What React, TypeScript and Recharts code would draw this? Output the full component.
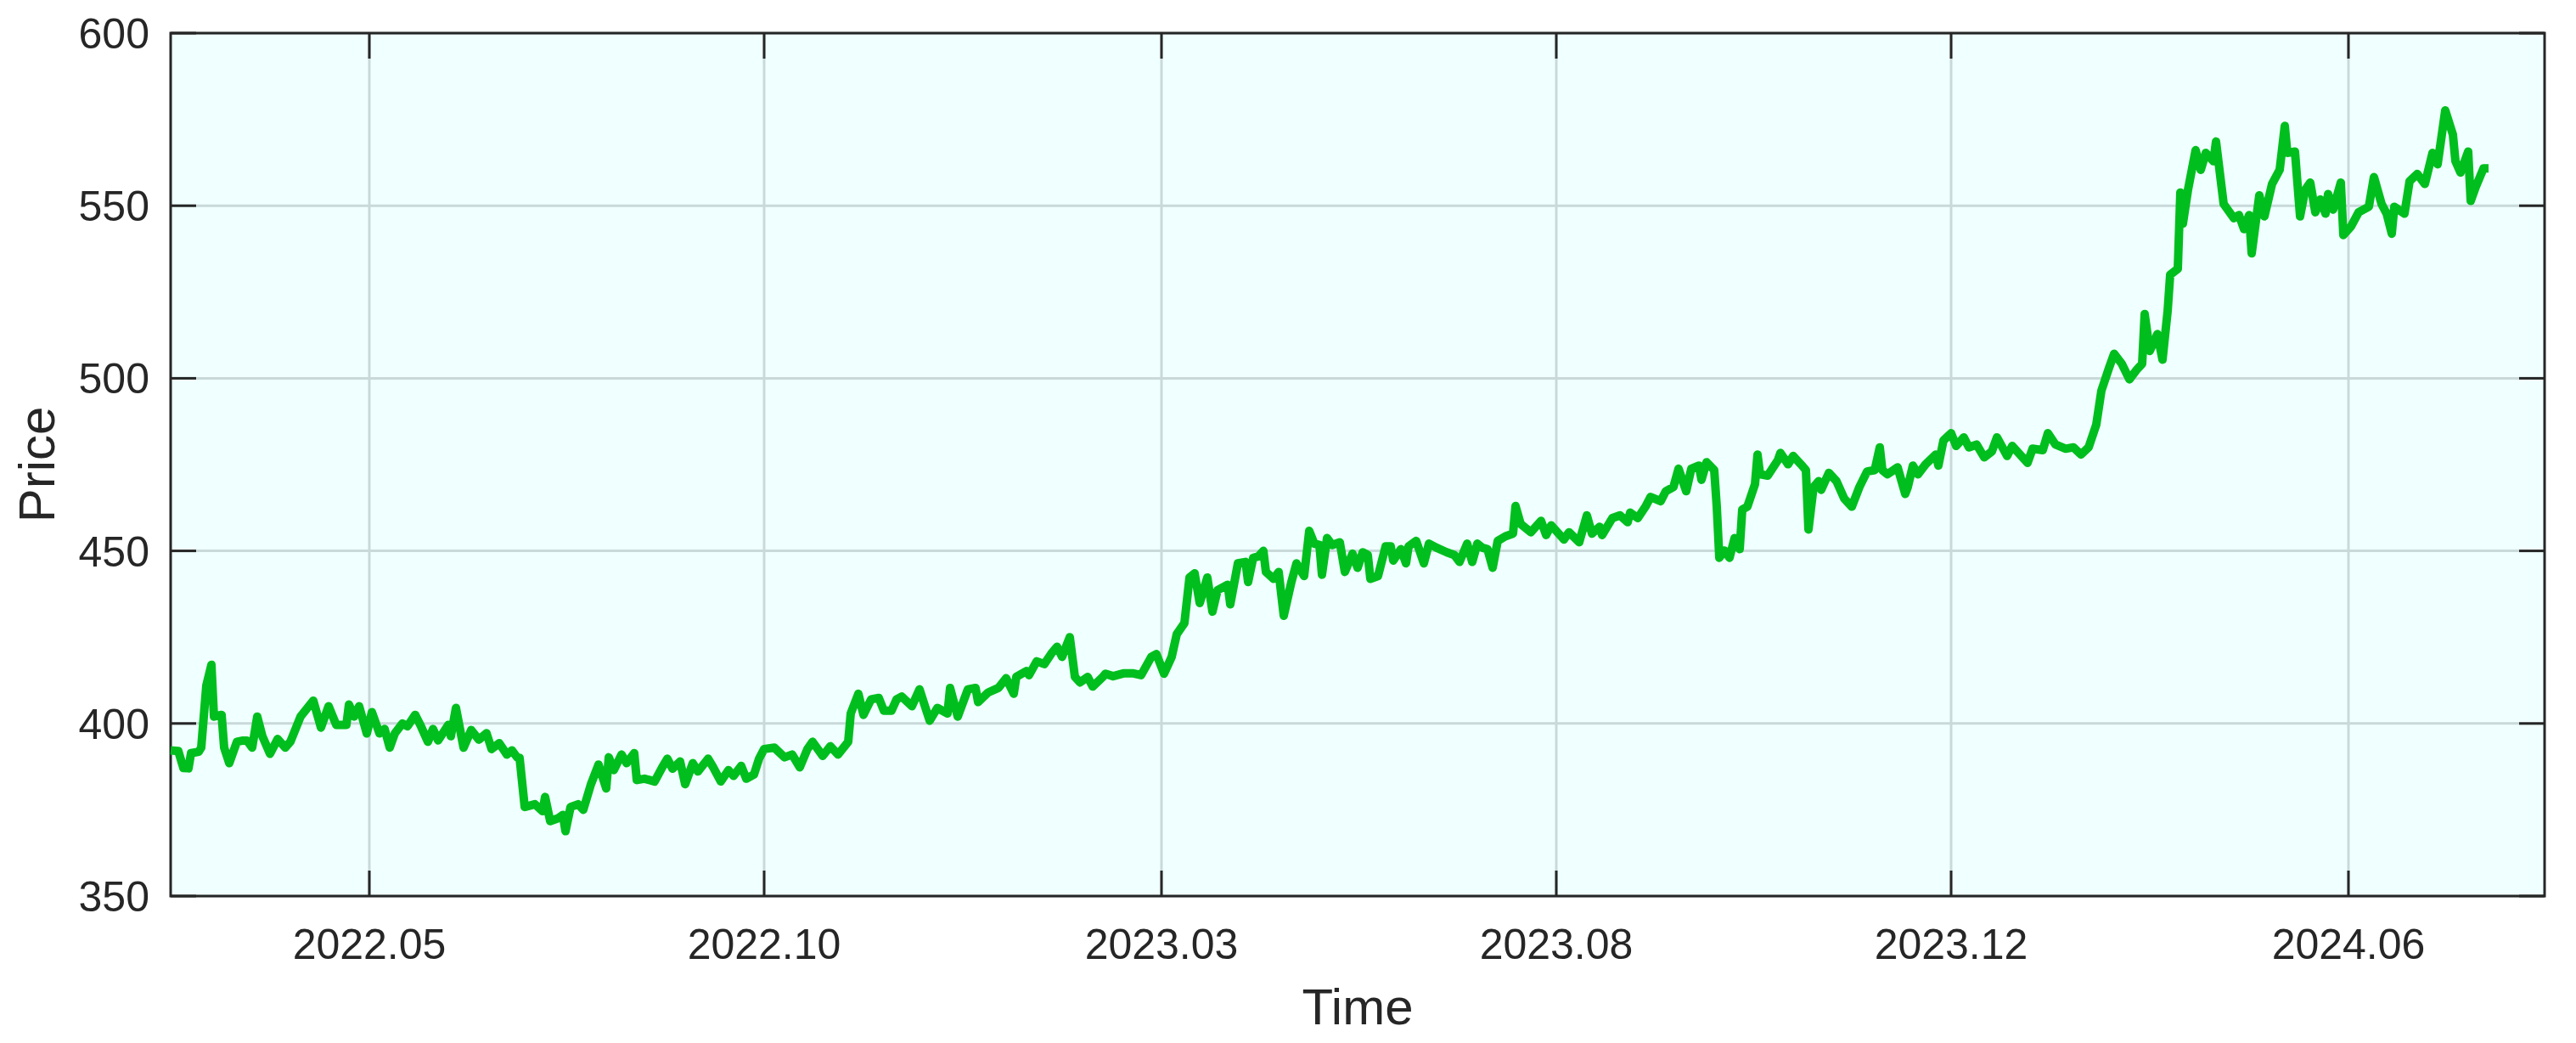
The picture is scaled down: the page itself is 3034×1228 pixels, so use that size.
import React from 'react';
import { LineChart, Line, XAxis, YAxis, CartesianGrid, Label, ReferenceArea } from 'recharts';

// day offsets from the start of the series and the matching prices
const days = [
  0, 3, 5, 7, 8, 11, 12, 14, 16, 17, 20, 21, 23, 26, 28, 30, 32, 34, 36, 39,
  42, 45, 47, 51, 56, 59, 62, 65, 69, 70, 72, 74, 77, 79, 82, 84, 86, 88, 91, 93,
  96, 98, 101, 103, 105, 109, 110, 112, 115, 118, 121, 124, 126, 129, 132, 134, 136, 137, 139, 143,
  146, 147, 149, 152, 154, 155, 157, 160, 162, 165, 168, 171, 172, 174, 177, 179, 182, 183, 186, 188,
  190, 193, 195, 197, 200, 202, 205, 207, 211, 213, 216, 219, 221, 224, 226, 229, 231, 233, 237, 241,
  244, 247, 250, 252, 256, 259, 262, 266, 267, 270, 272, 275, 278, 280, 283, 285, 287, 291, 294, 296,
  298, 301, 305, 306, 309, 313, 316, 317, 321, 325, 328, 331, 332, 336, 337, 340, 343, 346, 348, 350,
  351, 353, 355, 357, 360, 362, 366, 367, 370, 374, 378, 381, 385, 387, 390, 393, 395, 398, 400, 402,
  404, 407, 409, 411, 415, 416, 419, 422, 423, 425, 427, 429, 430, 433, 435, 437, 440, 442, 445, 447,
  449, 451, 452, 454, 456, 459, 461, 464, 466, 468, 470, 471, 474, 477, 479, 480, 483, 485, 486, 489,
  492, 494, 497, 501, 504, 506, 509, 511, 513, 515, 517, 519, 521, 524, 527, 528, 530, 534, 538, 540,
  542, 547, 549, 553, 556, 558, 561, 562, 566, 569, 572, 573, 576, 579, 581, 585, 587, 590, 592, 595,
  597, 600, 601, 603, 606, 607, 608, 610, 612, 614, 616, 617, 619, 622, 623, 624, 627, 631, 632, 635,
  637, 640, 642, 643, 645, 647, 648, 651, 654, 657, 660, 663, 666, 669, 671, 672, 674, 678, 681, 682,
  684, 686, 689, 693, 694, 696, 699, 701, 704, 706, 709, 712, 715, 717, 721, 723, 729, 731, 735, 737,
  740, 744, 747, 750, 753, 756, 758, 761, 763, 766, 769, 772, 774, 775, 777, 780, 782, 784, 785, 788,
  789, 790, 792, 795, 797, 799, 802, 803, 806, 810, 812, 814, 816, 817, 820, 822, 825, 828, 830, 831,
  834, 836, 838, 840, 842, 844, 846, 847, 849, 852, 853, 856, 859, 863, 865, 868, 870, 872, 873, 877,
  879, 882, 885, 888, 890, 893, 896, 897, 899, 902, 903, 905, 908, 910,
];

const prices = [
  392.2, 392, 387.1, 387, 391.4, 391.8, 393, 411, 417, 402, 402.5, 393, 388.5, 394.7, 395, 395, 393, 402, 396.3, 391.2,
  395.5, 393, 394.7, 402, 406.6, 398.8, 405, 399.6, 399.6, 405.5, 402, 405, 397.1, 403.3, 397.1, 398.4, 393, 397.1, 400, 399.2,
  402.5, 399.6, 394.7, 398.4, 395.1, 399.6, 396.3, 404.5, 393, 398.1, 395.3, 397.2, 392.6, 394.3, 391, 392.2, 390.2, 390, 375.8, 376.6,
  374.6, 378.7, 371.7, 372.5, 373.5, 368.8, 375.8, 376.6, 375, 382.4, 388.1, 381.2, 390.2, 386.5, 391, 388.5, 391.4, 383.6, 384, 383.6,
  383.2, 387.3, 389.8, 386.9, 389, 382.4, 388.5, 386.1, 389.8, 387.3, 383.2, 386.5, 384.8, 387.7, 384, 385.2, 389.8, 392.6, 393, 390.2,
  391, 387.3, 392.6, 394.7, 390.6, 393.4, 391, 394.7, 402.9, 408.6, 402.5, 407, 407.4, 403.7, 403.7, 407, 407.8, 405, 409.9, 405.3,
  400.8, 404.5, 402.9, 410.3, 402, 409.9, 410.3, 406.2, 409, 410.3, 413.1, 408.6, 413.5, 415.2, 414, 418, 417.2, 420.5, 422.2, 419.3,
  421.3, 425, 413.5, 411.9, 413.5, 410.7, 413.5, 414.4, 413.7, 414.5, 414.5, 414, 419.3, 420.1, 414.4, 419.3, 425.9, 429.1, 442.3, 443.5,
  434.9, 442.3, 432.4, 438.6, 440.2, 434.5, 446.4, 446.8, 441, 448, 448.4, 450, 443.9, 441.9, 443.9, 431.2, 441, 446.4, 442.7, 455.8,
  452.1, 451.7, 443.1, 453.7, 451.7, 452.5, 443.9, 449.2, 445.1, 449.6, 448.8, 441.9, 442.7, 451.3, 451.3, 447.2, 450.5, 446.4, 451.3, 452.9,
  446.4, 452.1, 450.9, 449.6, 448.8, 446.8, 452.1, 446.8, 452.1, 450.9, 450.5, 445.1, 452.9, 454.2, 455, 463, 457.8, 455.4, 458.7, 454.6,
  457.4, 453.3, 455.4, 452.5, 460.3, 455, 457, 454.6, 459.5, 460.3, 458.3, 461.1, 459.5, 462.8, 465.6, 464.4, 467.3, 468.5, 473.8, 467.3,
  473.8, 474.7, 470.6, 475.7, 473.4, 462.8, 448, 450.1, 448, 453.7, 450.5, 462, 462.8, 469.3, 477.9, 472.2, 471.8, 476.3, 478.4, 475.1,
  477.5, 475.1, 473.4, 456.2, 468.5, 470.2, 467.7, 472.6, 470.2, 465.2, 462.8, 468.5, 473, 473.4, 480, 473.4, 472.2, 474.2, 466.5, 468.5,
  474.7, 472.2, 475.1, 477.9, 474.7, 482, 484.1, 480.4, 482.9, 480, 480.8, 477.1, 478.8, 482.9, 477.5, 480.4, 475.5, 479.6, 479.2, 484.1,
  480.8, 479.6, 480, 477.9, 480, 486.6, 496.4, 503, 507.1, 504.2, 499.7, 502.6, 504.2, 518.6, 507.9, 512.8, 505.4, 519.4, 530, 531.7,
  553.8, 544.8, 554.6, 566.1, 560.4, 565.3, 562.9, 568.6, 550.5, 546.4, 547.3, 543.2, 547.3, 536.2, 553, 546.9, 556.3, 560.4, 573.1, 565.3,
  565.7, 546.9, 554.6, 556.7, 548.1, 551.8, 547.7, 553.4, 548.9, 556.7, 541.5, 544, 548.1, 549.7, 558.3, 550.5, 547.7, 541.9, 549.7, 547.7,
  557.1, 559.2, 556.3, 565.3, 562, 577.6, 570.6, 562.9, 559.6, 565.7, 551.4, 555.5, 560.8, 560.8,
];

const tickDays = [78, 233, 389, 544, 699, 855];
const tickLabels = ['2022.05', '2022.10', '2023.03', '2023.08', '2023.12', '2024.06'];
const priceTicks = [350, 400, 450, 500, 550, 600];

const data = days.map((d, i) => ({ day: d, price: prices[i] }));

const FONT = '"Liberation Sans", Arial, Helvetica, sans-serif';
const INK = '#262626';

// plot box (px) and inward tick length, MATLAB-style box axes
const BOX = { left: 201, right: 2997, top: 39, bottom: 1055 };
const TICK = 30;

const TimeTick = ({ x, payload }: any) => {
  const i = tickDays.indexOf(payload.value);
  return (
    <g>
      <line x1={x} x2={x} y1={BOX.bottom} y2={BOX.bottom - TICK} stroke={INK} strokeWidth={3} />
      <line x1={x} x2={x} y1={BOX.top} y2={BOX.top + TICK} stroke={INK} strokeWidth={3} />
      <text x={x} y={1129} textAnchor="middle" fontSize={50} fontFamily={FONT} fill={INK}>
        {i >= 0 ? tickLabels[i] : ''}
      </text>
    </g>
  );
};

const PriceTick = ({ y, payload }: any) => (
  <g>
    <line x1={BOX.left} x2={BOX.left + TICK} y1={y} y2={y} stroke={INK} strokeWidth={3} />
    <line x1={BOX.right} x2={BOX.right - TICK} y1={y} y2={y} stroke={INK} strokeWidth={3} />
    <text x={176} y={y} dy={18} textAnchor="end" fontSize={50} fontFamily={FONT} fill={INK}>
      {payload.value}
    </text>
  </g>
);

const PriceLabel = ({ viewBox }: any) => {
  const cx = 43;
  const cy = viewBox.y + viewBox.height / 2;
  return (
    <text
      x={cx}
      y={cy}
      transform={`rotate(-90 ${cx} ${cy})`}
      textAnchor="middle"
      dominantBaseline="central"
      fontSize={60}
      fontFamily={FONT}
      fill={INK}
    >
      Price
    </text>
  );
};

export default function App() {
  return (
    <div style={{ position: 'absolute', left: 0, top: 0, width: 3034, height: 1228, background: '#fff' }}>
      <LineChart width={3034} height={1228} data={data} margin={{ top: 39, right: 37, bottom: 0, left: 0 }}>
        <CartesianGrid
          fill="#F0FFFF"
          stroke="#c9d9d9"
          strokeWidth={3}
          horizontalValues={priceTicks}
          verticalValues={tickDays}
        />
        <XAxis
          dataKey="day"
          type="number"
          domain={[0, 932]}
          ticks={tickDays}
          interval={0}
          height={173}
          tickLine={false}
          axisLine={false}
          tick={<TimeTick />}
        >
          <Label value="Time" position="insideBottom" offset={22} fill={INK} fontSize={60} fontFamily={FONT} />
        </XAxis>
        <YAxis
          type="number"
          domain={[350, 600]}
          ticks={priceTicks}
          interval={0}
          width={201}
          tickLine={false}
          axisLine={false}
          tick={<PriceTick />}
        >
          <Label content={<PriceLabel />} />
        </YAxis>
        <Line
          type="linear"
          dataKey="price"
          stroke="#00BE1E"
          strokeWidth={10}
          strokeLinejoin="round"
          dot={false}
          activeDot={false}
          isAnimationActive={false}
        />
        <ReferenceArea
          x1={0}
          x2={932}
          y1={350}
          y2={600}
          fill="none"
          fillOpacity={0}
          stroke={INK}
          strokeWidth={3}
          ifOverflow="visible"
        />
      </LineChart>
    </div>
  );
}
